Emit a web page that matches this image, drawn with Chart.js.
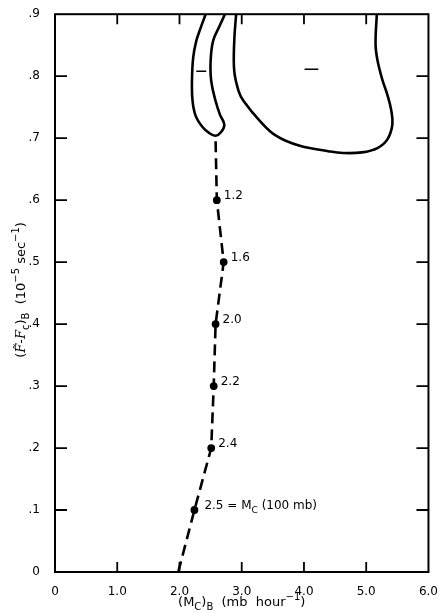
<!DOCTYPE html>
<html>
<head>
<meta charset="utf-8">
<script src="https://cdn.jsdelivr.net/npm/chart.js@4.4.0/dist/chart.umd.min.js"></script>
<style>
  html, body { margin: 0; padding: 0; background: #fff; }
  #wrap { width: 443px; height: 613px; }
</style>
</head>
<body>
<div id="wrap"><canvas id="myChart" width="443" height="613"></canvas></div>
<script>
// axis ticks
const xTickVals = [0, 1, 2, 3, 4, 5, 6];
const yTickVals = [0, 0.1, 0.2, 0.3, 0.4, 0.5, 0.6, 0.7, 0.8, 0.9];

// dashed path of (Mc)B vs (F-Fc)B, labelled with Mc values
const pathX = [1.98, 2.24, 2.51, 2.55, 2.58, 2.71, 2.60, 2.58];
const pathY = [0, 0.1, 0.2, 0.3, 0.4, 0.5, 0.6, 0.697];
const pathLabels = ['', '2.5', '2.4', '2.2', '2.0', '1.6', '1.2', ''];

// narrow closed contour (U shape)
const loop1X = [2.42, 2.33, 2.27, 2.22, 2.20, 2.21, 2.26, 2.37, 2.48, 2.58, 2.67, 2.72, 2.65, 2.58, 2.51, 2.50, 2.54, 2.64, 2.73];
const loop1Y = [0.900, 0.875, 0.857, 0.830, 0.790, 0.760, 0.736, 0.718, 0.708, 0.704, 0.710, 0.722, 0.738, 0.760, 0.792, 0.824, 0.857, 0.880, 0.900];

// large contour
const loop2X = [2.91, 2.88, 2.88, 2.95, 3.03, 3.29, 3.55, 3.92, 4.39, 4.63, 4.93, 5.18, 5.34, 5.42, 5.40, 5.34, 5.26, 5.18, 5.15, 5.17];
const loop2Y = [0.900, 0.857, 0.808, 0.776, 0.760, 0.728, 0.704, 0.688, 0.679, 0.676, 0.677, 0.684, 0.698, 0.722, 0.746, 0.770, 0.794, 0.826, 0.851, 0.900];

// minus marks inside contours
const minus1X = [2.27, 2.43], minus1Y = [0.808, 0.808];
const minus2X = [4.01, 4.23], minus2Y = [0.811, 0.811];

const FONT = "'DejaVu Sans', sans-serif";
const SCRIPT = "italic 'DejaVu Serif', serif";
const zip = (xs, ys) => xs.map((x, i) => ({x: x, y: ys[i]}));

// draws text with sub/superscripts; parts = [[text, 'n'|'sub'|'sup'|'f'], ...]
const drawRich = (ctx, parts, x, y, size, align) => {
    const fontFor = (t) => {
        if (t === 'f') return 'italic ' + size + "px 'DejaVu Serif', serif";
        return (t === 'n' ? size : Math.round(size * 0.75)) + 'px ' + FONT;
    };
    let total = 0;
    parts.forEach(p => { ctx.font = fontFor(p[1]); total += ctx.measureText(p[0]).width; });
    let cx = align === 'center' ? x - total / 2 : x;
    ctx.textAlign = 'left';
    ctx.textBaseline = 'middle';
    parts.forEach(p => {
        ctx.font = fontFor(p[1]);
        let dy = 0;
        if (p[1] === 'sub') dy = size * 0.35;
        if (p[1] === 'sup') dy = -size * 0.4;
        ctx.fillText(p[0], cx, y + dy);
        cx += ctx.measureText(p[0]).width;
    });
};

const framePlugin = {
    id: 'frame',
    afterDatasetsDraw(chart) {
        const ctx = chart.ctx, a = chart.chartArea;
        const xs = chart.scales.x, ys = chart.scales.y;
        ctx.save();
        ctx.strokeStyle = '#000';
        ctx.lineWidth = 2;
        ctx.strokeRect(a.left, a.top, a.right - a.left, a.bottom - a.top);
        // inward tick marks
        ctx.lineWidth = 1.8;
        ctx.beginPath();
        xTickVals.slice(1, -1).forEach(v => {
            const px = xs.getPixelForValue(v);
            ctx.moveTo(px, a.bottom); ctx.lineTo(px, a.bottom - 10);
            ctx.moveTo(px, a.top); ctx.lineTo(px, a.top + 10);
        });
        yTickVals.slice(1, -1).forEach(v => {
            const py = ys.getPixelForValue(v);
            ctx.moveTo(a.left, py); ctx.lineTo(a.left + 12, py);
            ctx.moveTo(a.right, py); ctx.lineTo(a.right - 12, py);
        });
        ctx.stroke();

        // point labels on the dashed path
        ctx.fillStyle = '#000';
        pathLabels.forEach((lab, i) => {
            if (!lab) return;
            const px = xs.getPixelForValue(pathX[i]) + 7;
            const py = ys.getPixelForValue(pathY[i]) - 4;
            if (i === 1) {
                drawRich(ctx, [['2.5 = M', 'n'], ['C', 'sub'], [' (100 mb)', 'n']], px + 3, py, 12, 'left');
            } else {
                drawRich(ctx, [[lab, 'n']], px, py, 12, 'left');
            }
        });

        // x axis title
        drawRich(ctx, [['(M', 'n'], ['C', 'sub'], [')', 'n'], ['B', 'sub'], ['  (mb  hour', 'n'], ['\u22121', 'sup'], [')', 'n']],
            (a.left + a.right) / 2, 603, 13, 'center');

        // y axis title, rotated
        ctx.translate(22, 290);
        ctx.rotate(-Math.PI / 2);
        drawRich(ctx, [['(', 'n'], ['F\u0303', 'f'], ['-', 'n'], ['F', 'f'], ['c', 'sub'], [')', 'n'], ['B', 'sub'], ['  (10', 'n'], ['\u22125', 'sup'], [' sec', 'n'], ['\u22121', 'sup'], [')', 'n']],
            0, 0, 13, 'center');
        ctx.restore();
    }
};

const lineDs = (data, extra) => Object.assign({
    data: data,
    showLine: true,
    borderColor: '#000',
    backgroundColor: '#000',
    borderWidth: 2.6,
    pointRadius: 0,
    tension: 0.4
}, extra);

const ctx = document.getElementById('myChart').getContext('2d');
const myChart = new Chart(ctx, {
    type: 'scatter',
    data: {
        datasets: [
            lineDs(zip(pathX, pathY), {
                borderDash: [11, 6],
                tension: 0,
                pointRadius: pathLabels.map(l => l ? 2.6 : 0)
            }),
            lineDs(zip(loop1X, loop1Y)),
            lineDs(zip(loop2X, loop2Y)),
            lineDs(zip(minus1X, minus1Y), {borderWidth: 1.5, tension: 0}),
            lineDs(zip(minus2X, minus2Y), {borderWidth: 1.5, tension: 0})
        ]
    },
    options: {
        responsive: false,
        animation: false,
        layout: { padding: { top: 13, right: 8, left: 0, bottom: 0 } },
        plugins: { legend: { display: false }, tooltip: { enabled: false } },
        scales: {
            x: {
                type: 'linear', min: 0, max: 6,
                grid: { display: false },
                border: { display: false },
                afterFit: s => { s.height = 41; },
                afterBuildTicks: s => { s.ticks = xTickVals.map(v => ({value: v})); },
                ticks: {
                    padding: 5, color: '#000', maxRotation: 0,
                    font: { family: FONT, size: 12 },
                    callback: v => v === 0 ? '0' : v.toFixed(1)
                }
            },
            y: {
                type: 'linear', min: 0, max: 0.9,
                grid: { display: false },
                border: { display: false },
                afterFit: s => { s.width = 55; },
                afterBuildTicks: s => { s.ticks = yTickVals.map(v => ({value: v})); },
                ticks: {
                    padding: 7, color: '#000',
                    font: { family: FONT, size: 12 },
                    callback: v => v === 0 ? '0' : '.' + Math.round(v * 10)
                }
            }
        }
    },
    plugins: [framePlugin]
});
</script>
</body>
</html>
